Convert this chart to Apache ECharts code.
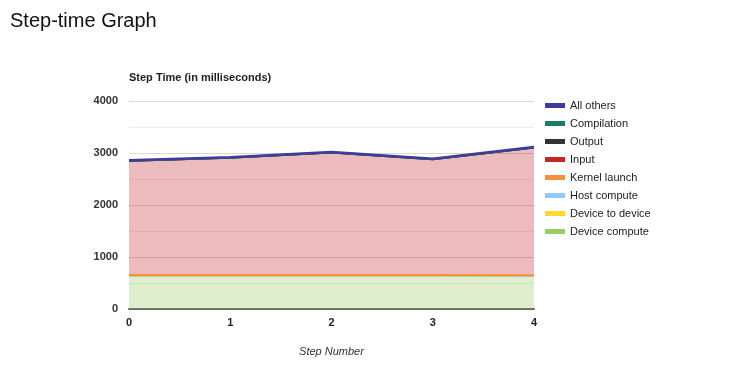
<!DOCTYPE html>
<html><head><meta charset="utf-8">
<script src="https://cdn.jsdelivr.net/npm/echarts@6/dist/echarts.min.js"></script>
<style>html,body{margin:0;padding:0;background:#fff}#c{width:736px;height:379px}</style>
</head><body><div id="c"></div>
<script>
const steps = ['0','1','2','3','4'];
const deviceCompute = [630, 630, 630, 630, 625];
const deviceToDevice = [0, 0, 0, 0, 0];
const hostCompute = [5, 5, 5, 5, 5];
const kernelLaunch = [20, 20, 20, 20, 20];
const input = [2185, 2245, 2345, 2215, 2445];
const output = [0, 0, 0, 0, 0];
const compilation = [0, 0, 0, 0, 0];
const allOthers = [20, 20, 20, 20, 20];
const yTicks = [0, 1000, 2000, 3000, 4000];

const FONT = 'Liberation Sans, Arial, sans-serif';
function s(name, data, line, fill, lw, z) {
  return {
    name, type: 'line', stack: 't', data, symbol: 'none', smooth: false, z: z,
    lineStyle: { color: line, width: lw },
    itemStyle: { color: line },
    areaStyle: fill ? { color: fill, opacity: 1 } : { opacity: 0 }
  };
}
const chart = echarts.init(document.getElementById('c'));
chart.setOption({
  animation: false,
  backgroundColor: '#fff',
  title: [
    { text: 'Step-time Graph', left: 5, top: 6, textStyle: { fontFamily: FONT, fontSize: 20, fontWeight: 'normal', color: '#111' } },
    { text: 'Step Time (in milliseconds)', left: 124, top: 67, textStyle: { fontFamily: FONT, fontSize: 11, fontWeight: 'bold', color: '#222' } }
  ],
  legend: {
    orient: 'vertical', left: 540, top: 95, itemGap: 7, itemWidth: 20, itemHeight: 5, icon: 'rect',
    textStyle: { fontFamily: FONT, fontSize: 11, color: '#222' },
    data: ['All others','Compilation','Output','Input','Kernel launch','Host compute','Device to device','Device compute']
  },
  grid: { left: 129, right: 202, top: 101, bottom: 70 },
  xAxis: {
    type: 'category', data: steps, boundaryGap: false,
    name: 'Step Number', nameLocation: 'middle', nameGap: 37,
    nameTextStyle: { fontFamily: FONT, fontSize: 11, fontStyle: 'italic', color: '#333' },
    axisLine: { show: true, lineStyle: { color: '#666', width: 2 } },
    axisTick: { show: false },
    axisLabel: { fontFamily: FONT, fontSize: 11, fontWeight: 'bold', color: '#222', margin: 8 },
    splitLine: { show: false }
  },
  yAxis: {
    type: 'value', min: yTicks[0], max: yTicks[yTicks.length-1], interval: 1000,
    axisLine: { show: false }, axisTick: { show: false },
    axisLabel: { fontFamily: FONT, fontSize: 11, fontWeight: 'bold', color: '#333', margin: 11, formatter: v => String(v) },
    splitLine: { show: true, lineStyle: { color: '#d8d8d8', width: 1 } },
    minorTick: { show: false, splitNumber: 2 },
    minorSplitLine: { show: true, lineStyle: { color: '#ececec', width: 1 } }
  },
  series: [
    s('Device compute', deviceCompute, '#9ccc65', 'rgba(139,195,74,0.28)', 1, 2),
    s('Device to device', deviceToDevice, '#fdd835', 'rgba(253,216,53,0.28)', 1, 2),
    s('Host compute', hostCompute, '#90caf9', 'rgba(100,181,246,0.28)', 1, 2),
    s('Kernel launch', kernelLaunch, '#f5913a', 'rgba(255,152,0,0.28)', 2, 3),
    s('Input', input, '#c62828', 'rgba(190,30,40,0.3)', 1, 2),
    s('Output', output, '#333333', null, 1, 2),
    s('Compilation', compilation, '#1b7c6c', null, 1, 2),
    s('All others', allOthers, '#3f3a9c', 'rgba(126,87,194,0.3)', 2.5, 4)
  ]
});
</script></body></html>
